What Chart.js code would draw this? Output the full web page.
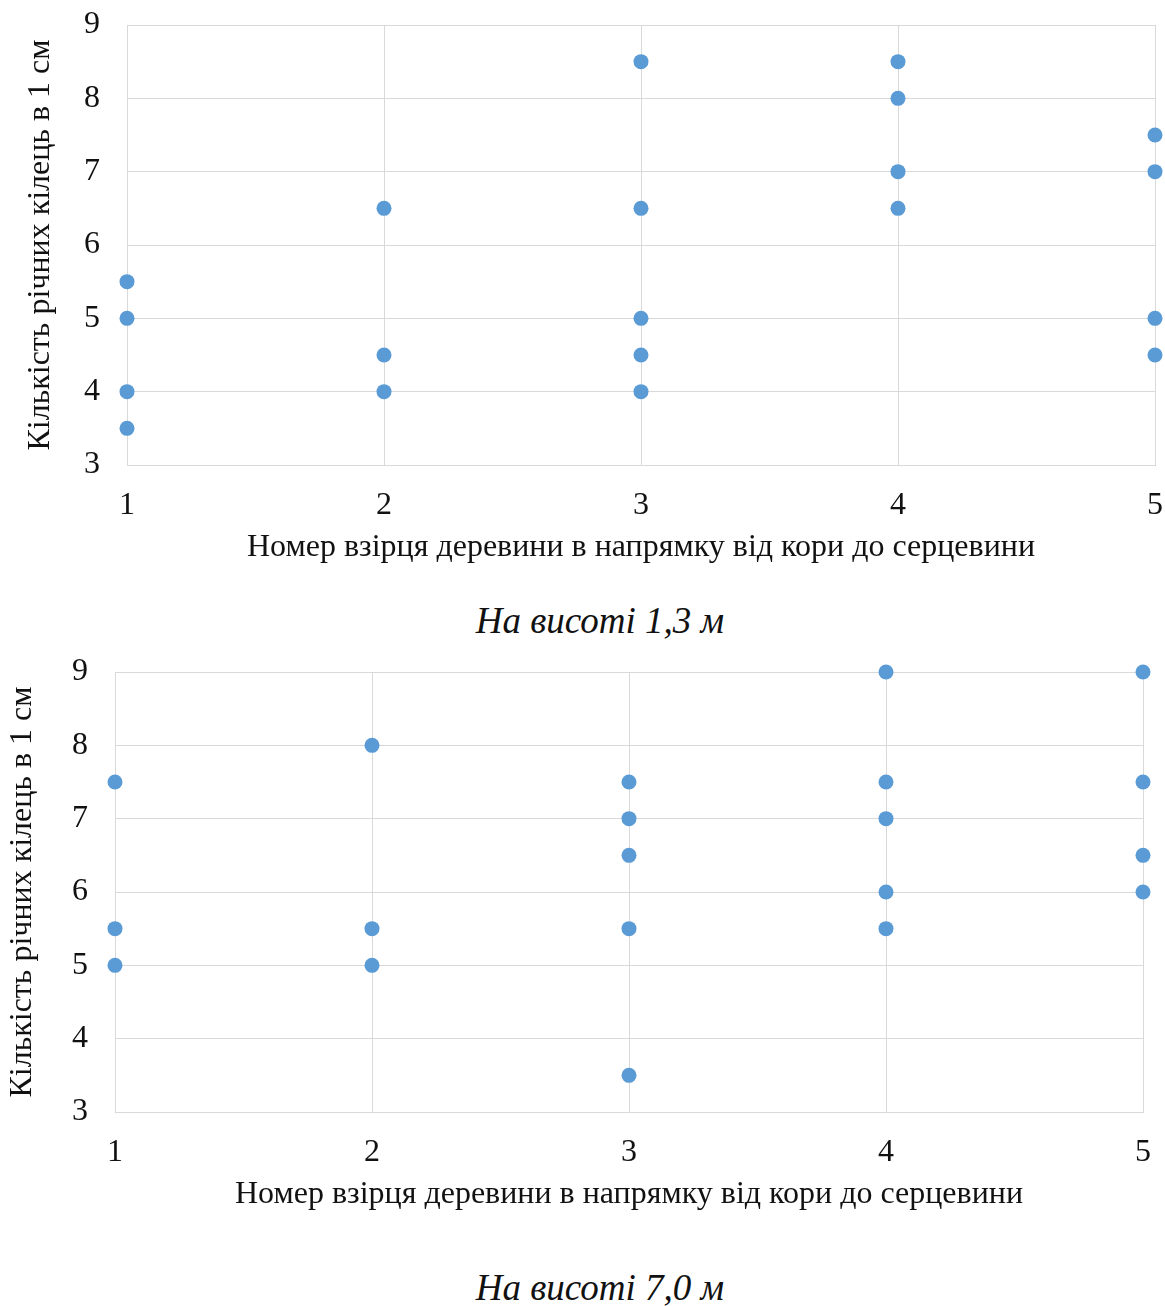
<!DOCTYPE html>
<html lang="uk">
<head>
    <meta charset="UTF-8">
    <title>Кількість річних кілець</title>
    <script src="https://cdn.jsdelivr.net/npm/chart.js"></script>
    <style>
        body {
            margin: 0;
            background: #fff;
            font-family: 'Liberation Serif', serif;
        }
        .page {
            position: relative;
            width: 1165px;
            height: 1306px;
        }
        .box {
            position: absolute;
            left: 0;
            width: 1165px;
        }
        .caption {
            position: absolute;
            left: 0;
            width: 1200px;
            text-align: center;
            font-style: italic;
            font-size: 37px;
            line-height: 40px;
            color: #111;
        }
    </style>
</head>
<body>
<div class="page">
    <div class="box" style="top:0;height:580px"><canvas id="chartTop"></canvas></div>
    <div class="caption" style="top:601px">На висоті 1,3 м</div>
    <div class="box" style="top:640px;height:580px"><canvas id="chartBottom"></canvas></div>
    <div class="caption" style="top:1268px">На висоті 7,0 м</div>
</div>

<script>
    // sample numbers (bark -> pith)
    const samples = [1, 2, 3, 4, 5];
    // ring counts per 1 cm at 1.3 m, one list per sample
    const rings13 = [
        [5.5, 5, 4, 3.5],
        [6.5, 4.5, 4],
        [8.5, 6.5, 5, 4.5, 4],
        [8.5, 8, 7, 6.5],
        [7.5, 7, 5, 4.5]
    ];
    // ring counts per 1 cm at 7.0 m
    const rings70 = [
        [7.5, 5.5, 5],
        [8, 5.5, 5],
        [7.5, 7, 6.5, 5.5, 3.5],
        [9, 7.5, 7, 6, 5.5],
        [9, 7.5, 6.5, 6]
    ];
    const yTicks = [3, 4, 5, 6, 7, 8, 9];

    const xTitle = 'Номер взірця деревини в напрямку від кори до серцевини';
    const yTitle = 'Кількість річних кілець в 1 см';
    const gridColor = '#d9d9d9';
    const textColor = '#111';
    const font = { family: 'Liberation Serif', size: 32 };

    function toPoints(rings) {
        const pts = [];
        samples.forEach((s, i) => {
            rings[i].forEach(v => pts.push({ x: s, y: v }));
        });
        return pts;
    }

    function makeChart(id, rings, opt) {
        return new Chart(document.getElementById(id), {
            type: 'scatter',
            data: {
                datasets: [{
                    data: toPoints(rings),
                    backgroundColor: '#5b9bd5',
                    borderWidth: 0,
                    pointRadius: 7.5,
                    pointHoverRadius: 7.5,
                    clip: false
                }]
            },
            options: {
                responsive: true,
                maintainAspectRatio: false,
                animation: false,
                layout: { padding: { top: opt.top, right: opt.right, bottom: opt.bottom, left: 0 } },
                plugins: { legend: { display: false }, tooltip: { enabled: false } },
                scales: {
                    x: {
                        type: 'linear',
                        min: samples[0],
                        max: samples[samples.length - 1],
                        afterBuildTicks: s => { s.ticks = samples.map(v => ({ value: v })); },
                        afterFit: s => { s.height = 102; },
                        // tick marks used only as a transparent gap
                        grid: { color: gridColor, drawTicks: true, tickLength: 21, tickColor: 'transparent' },
                        border: { color: gridColor },
                        ticks: { padding: 0, color: textColor, font: font },
                        title: {
                            display: true, text: xTitle, color: textColor,
                            padding: { top: 0, bottom: 0 },
                            font: font
                        }
                    },
                    y: {
                        min: 3,
                        max: 9,
                        afterBuildTicks: s => { s.ticks = yTicks.map(v => ({ value: v })); },
                        afterFit: s => { s.width = opt.left; },
                        grid: { color: gridColor, drawTicks: true, tickLength: 27, tickColor: 'transparent' },
                        border: { color: gridColor },
                        ticks: { padding: 0, color: textColor, font: font },
                        title: {
                            display: true, text: yTitle, color: textColor,
                            padding: { top: opt.titlePad, bottom: 0 },
                            font: font
                        }
                    }
                }
            }
        });
    }

    makeChart('chartTop', rings13, { top: 25, right: 10, bottom: 13, left: 127, titlePad: 21 });
    makeChart('chartBottom', rings70, { top: 32, right: 22, bottom: 6, left: 115, titlePad: 3 });
</script>
</body>
</html>
